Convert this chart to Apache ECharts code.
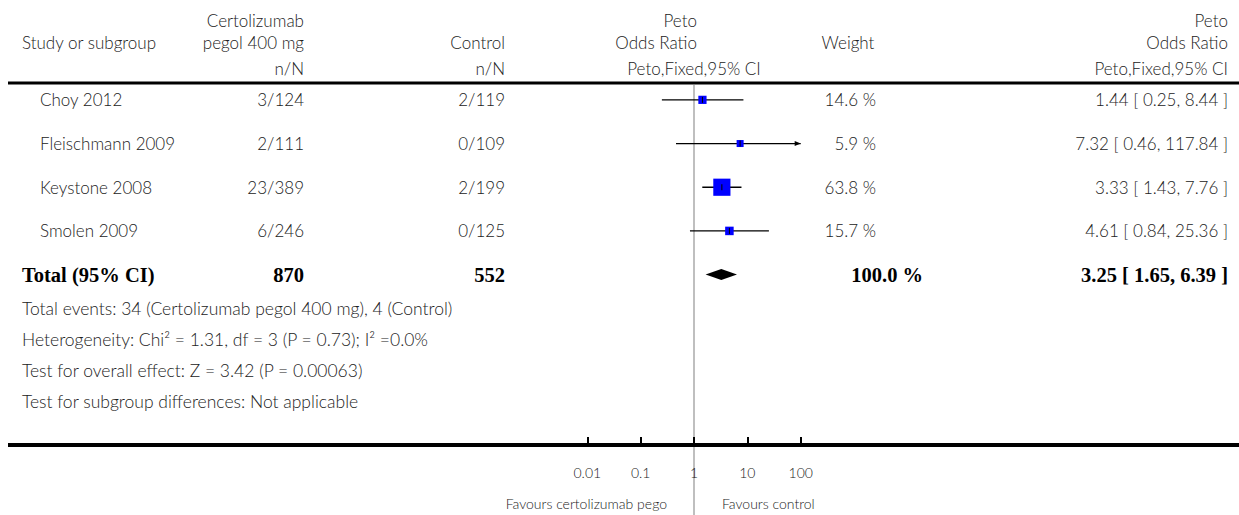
<!DOCTYPE html>
<html><head><meta charset="utf-8">
<script src="https://cdn.jsdelivr.net/npm/echarts@6/dist/echarts.min.js"></script>
<style>html,body{margin:0;padding:0;background:#fff}#c{width:1239px;height:515px}</style>
</head><body><div id="c"></div>
<script>
// ---- data ----
const studies = ['Choy 2012', 'Fleischmann 2009', 'Keystone 2008', 'Smolen 2009'];
const treatEvents = [3, 2, 23, 6];
const treatTotal = [124, 111, 389, 246];
const ctrlEvents = [2, 0, 2, 0];
const ctrlTotal = [119, 109, 199, 125];
const weights = [14.6, 5.9, 63.8, 15.7];
const oddsRatio = [1.44, 7.32, 3.33, 4.61];
const ciLow = [0.25, 0.46, 1.43, 0.84];
const ciHigh = [8.44, 117.84, 7.76, 25.36];
const totalLabel = 'Total (95% CI)';
const totalCounts = [870, 552];
const totalWeight = 100.0;
const totalEffect = [3.25, 1.65, 6.39]; // OR, low, high
const footnotes = [
  'Total events: 34 (Certolizumab pegol 400 mg), 4 (Control)',
  'Heterogeneity: Chi\u00b2 = 1.31, df = 3 (P = 0.73); I\u00b2 =0.0%',
  'Test for overall effect: Z = 3.42 (P = 0.00063)',
  'Test for subgroup differences: Not applicable'
];
const tickValues = [0.01, 0.1, 1, 10, 100];
const tickLabels = ['0.01', '0.1', '1', '10', '100'];
const favourLabels = ['Favours certolizumab pego', 'Favours control'];

// ---- chart ----
const FONT = 'Lato, "Open Sans", sans-serif';
const TXT = '#222';
const chart = echarts.init(document.getElementById('c'), null, {renderer: 'svg'});
const xMin = tickValues[0], xMax = tickValues[tickValues.length - 1];

const ciData = studies.map((s, i) => [oddsRatio[i], i, ciLow[i], ciHigh[i], weights[i]]);
const totRow = studies.length;

function renderCI(params, api) {
  const or = api.value(0), i = api.value(1), lo = api.value(2), hi = api.value(3), w = api.value(4);
  const clipped = hi > xMax;
  const p0 = api.coord([Math.max(lo, xMin), i]);
  const p1 = api.coord([clipped ? xMax : hi, i]);
  const pc = api.coord([or, i]);
  const side = Math.max(7, Math.sqrt(w) * 2.15);
  const ch = [
    {type: 'line', shape: {x1: p0[0], y1: p0[1], x2: p1[0], y2: p1[1]}, style: {stroke: '#000', lineWidth: 1.3}},
    {type: 'rect', shape: {x: pc[0] - side / 2, y: pc[1] - side / 2, width: side, height: side}, style: {fill: '#0000ff'}},
    {type: 'line', shape: {x1: pc[0], y1: pc[1] - 3, x2: pc[0], y2: pc[1] + 3}, style: {stroke: '#000', lineWidth: 1}}
  ];
  if (clipped) ch.push({type: 'polygon', shape: {points: [[p1[0], p1[1]], [p1[0] - 6, p1[1] - 2.5], [p1[0] - 6, p1[1] + 2.5]]}, style: {fill: '#000'}});
  return {type: 'group', children: ch};
}
function renderDiamond(params, api) {
  const or = api.value(0), i = api.value(1), lo = api.value(2), hi = api.value(3);
  const a = api.coord([lo, i]), c = api.coord([or, i]), b = api.coord([hi, i]);
  return {type: 'polygon', shape: {points: [[a[0], a[1]], [c[0], c[1] - 5.5], [b[0], b[1]], [c[0], c[1] + 5.5]]}, style: {fill: '#000'}};
}

chart.setOption({
  animation: false,
  grid: {left: 587.3, right: 438.3, top: 78, bottom: 70},
  xAxis: {
    type: 'log', logBase: 10, min: xMin, max: xMax, position: 'bottom', z: 8,
    axisLine: {show: false, onZero: false},
    axisTick: {show: true, inside: true, length: 8, lineStyle: {color: '#000', width: 2}},
    splitLine: {show: false},
    axisLabel: {margin: 20, fontFamily: FONT, fontSize: 14, fontWeight: 300, color: TXT, formatter: v => {
      const k = tickValues.findIndex(t => Math.abs(Math.log10(t) - Math.log10(v)) < 1e-6);
      return k >= 0 ? tickLabels[k] : '';
    }}
  },
  yAxis: {type: 'value', inverse: true, min: -0.5, max: 7.9, show: false},
  series: [
    {type: 'custom', renderItem: renderCI, data: ciData, clip: false, encode: {x: 0, y: 1}, z: 6},
    {type: 'custom', renderItem: renderDiamond, data: [[totalEffect[0], totRow, totalEffect[1], totalEffect[2]]], clip: false, encode: {x: 0, y: 1}, z: 6}
  ]
});

// ---- text & rules ----
const rowY = i => chart.convertToPixel({yAxisIndex: 0}, i);
const xOne = chart.convertToPixel({xAxisIndex: 0}, 1);
const g = [];
function txt(text, x, y, align, opt) {
  opt = opt || {};
  g.push({type: 'text', x: x, y: y, z: 10, style: Object.assign({text: text, fill: TXT, font: '300 17px ' + FONT, textAlign: align, textVerticalAlign: 'middle'}, opt)});
}
const fmt = v => v.toFixed(2);
const H1 = 20, H2 = 42, H3 = 68;
const C_STUDY = 40, C_T = 304, C_C = 505, C_W = 876, C_R = 1228;
txt('Study or subgroup', 22, H2, 'left');
txt('Certolizumab', C_T, H1, 'right');
txt('pegol 400 mg', C_T, H2, 'right');
txt('n/N', C_T, H3, 'right');
txt('Control', C_C, H2, 'right');
txt('n/N', C_C, H3, 'right');
txt('Peto', 697, H1, 'right');
txt('Odds Ratio', 697, H2, 'right');
txt('Peto,Fixed,95% CI', xOne, H3, 'center');
txt('Weight', 848, H2, 'center');
txt('Peto', C_R, H1, 'right');
txt('Odds Ratio', C_R, H2, 'right');
txt('Peto,Fixed,95% CI', C_R, H3, 'right');
studies.forEach((s, i) => {
  const y = rowY(i);
  txt(s, C_STUDY, y, 'left');
  txt(treatEvents[i] + '/' + treatTotal[i], C_T, y, 'right');
  txt(ctrlEvents[i] + '/' + ctrlTotal[i], C_C, y, 'right');
  txt(weights[i].toFixed(1) + ' %', C_W, y, 'right');
  txt(fmt(oddsRatio[i]) + ' [ ' + fmt(ciLow[i]) + ', ' + fmt(ciHigh[i]) + ' ]', C_R, y, 'right');
});
const yt = rowY(totRow);
const BOLD = {font: 'bold 20.5px "Liberation Serif", "Times New Roman", serif', fill: '#000'};
txt(totalLabel, 22, yt, 'left', BOLD);
txt(String(totalCounts[0]), C_T, yt, 'right', BOLD);
txt(String(totalCounts[1]), C_C, yt, 'right', BOLD);
txt(totalWeight.toFixed(1) + ' %', 923, yt, 'right', BOLD);
txt(fmt(totalEffect[0]) + ' [ ' + fmt(totalEffect[1]) + ', ' + fmt(totalEffect[2]) + ' ]', C_R, yt, 'right', BOLD);
footnotes.forEach((f, k) => txt(f, 22, 308 + k * 31, 'left', {font: '300 17.5px ' + FONT}));
txt(favourLabels[0], xOne - 27, 503, 'right', {font: '300 14px ' + FONT});
txt(favourLabels[1], xOne + 28, 503, 'left', {font: '300 14px ' + FONT});
// rules
g.push({type: 'rect', z: 5, shape: {x: 8, y: 81.5, width: 1231, height: 3}, style: {fill: '#000'}});
g.push({type: 'rect', z: 5, shape: {x: 8, y: 443, width: 1231, height: 4}, style: {fill: '#000'}});
g.push({type: 'line', z: 1, shape: {x1: xOne, y1: 85, x2: xOne, y2: 515}, style: {stroke: '#aaa', lineWidth: 1.5}});
chart.setOption({graphic: g});
</script></body></html>
